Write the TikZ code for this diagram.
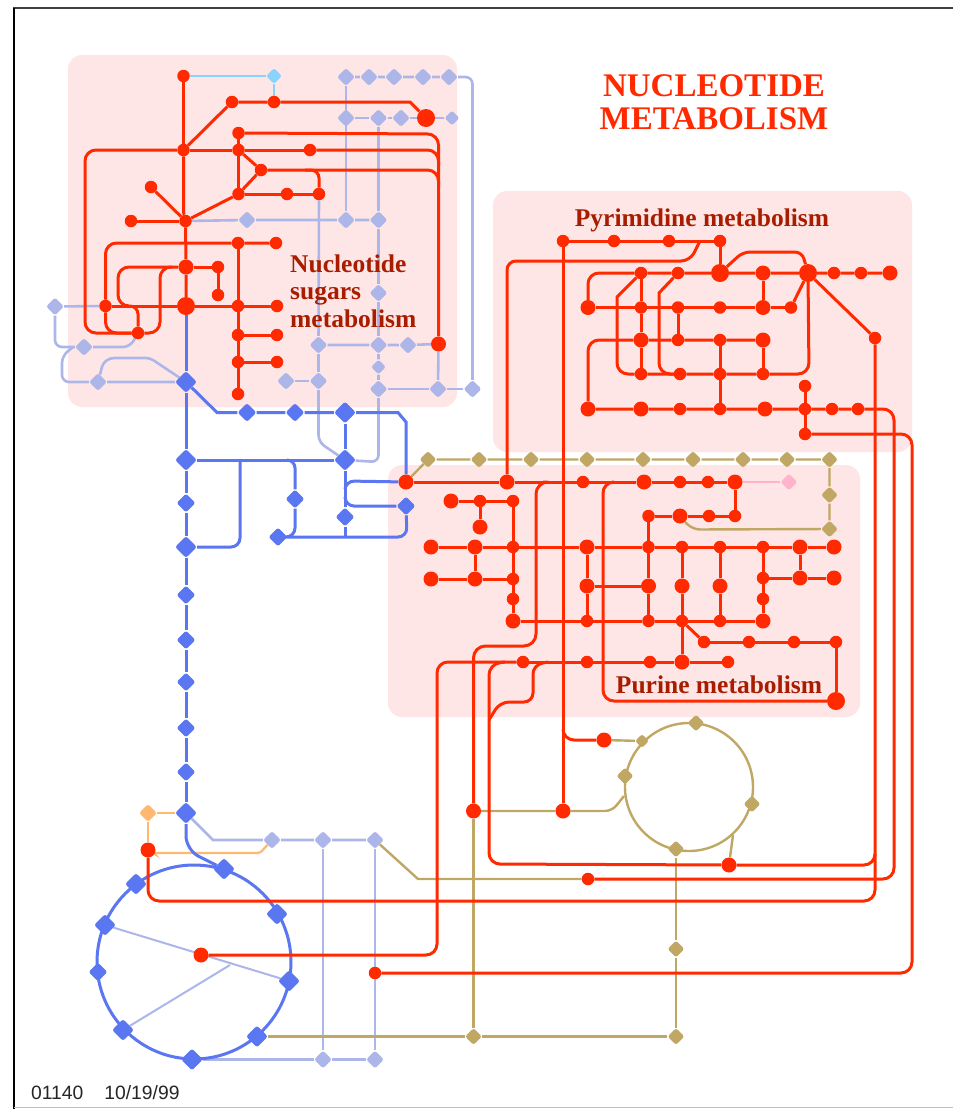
\documentclass[tikz,border=0pt]{standalone}
\usepackage{fontspec}
\setmainfont{Liberation Serif}
\newfontfamily\footfont{Liberation Sans}
\usetikzlibrary{shapes.geometric}
\definecolor{rd}{HTML}{FF2A00}
\definecolor{bgp}{HTML}{FFE6E6}
\definecolor{txd}{HTML}{A81C00}
\definecolor{bl}{HTML}{5A76F0}
\definecolor{pb}{HTML}{ADB6E8}
\definecolor{tn}{HTML}{C0A864}
\definecolor{org}{HTML}{FFB870}
\definecolor{lb}{HTML}{8AD2FF}
\definecolor{pk}{HTML}{FFB4CC}
\pgfdeclarelayer{bgl}\pgfdeclarelayer{pl}\pgfdeclarelayer{rl}\pgfdeclarelayer{rn}
\pgfsetlayers{bgl,pl,main,rl,rn}
\tikzset{
 rS/.style={circle,fill=rd,inner sep=0,minimum size=12.5},
 rM/.style={circle,fill=rd,inner sep=0,minimum size=15},
 rB/.style={circle,fill=rd,inner sep=0,minimum size=18},
 dia/.style={diamond,inner sep=0,minimum size=#1,rounded corners=2.5},
 pD/.style={dia=18,fill=pb},
 pS/.style={dia=15,fill=pb},
 bD/.style={dia=19,fill=bl},
 bB/.style={dia=22,fill=bl},
 tD/.style={dia=17,fill=tn},
 tS/.style={dia=14,fill=tn},
 oD/.style={dia=18,fill=org},
 lD/.style={dia=16,fill=lb},
 kD/.style={dia=17,fill=pk},
 panel/.style={fill=bgp,rounded corners=14},
 rline/.style={draw=rd,line width=3,rounded corners=11},
 pline/.style={draw=pb,line width=2.6,rounded corners=7},
 bline/.style={draw=bl,line width=3,rounded corners=7},
 tline/.style={draw=tn,line width=2.4,rounded corners=7},
 oline/.style={draw=org,line width=2.2},
 lline/.style={draw=lb,line width=2.4},
 kline/.style={draw=pk,line width=2.4},
 hd/.style={text=txd,font=\bfseries\fontsize{25.5}{27}\selectfont,inner sep=0},
}
\newcommand{\nd}[4]{\node[#1] (#2) at (#3,#4) {};}
\begin{document}
\begin{tikzpicture}[x=1pt,y=-1pt]
\useasboundingbox (0,0) rectangle (953,1109);
\begin{pgfonlayer}{bgl}
\fill[white] (0,0) rectangle (953,1109);
\fill[panel] (68,55) rectangle (457,407);
\fill[panel] (493,191) rectangle (912,452);
\fill[panel] (388,465) rectangle (860,717);
\draw[line width=1.2,black!75] (13,8) -- (953,8);
\draw[line width=2.2,black] (14,8) -- (14,1109);
\draw[line width=1,black!25] (14,1107.5) -- (953,1107.5);
\end{pgfonlayer}

% ---------- text
\node[text=rd,font=\bfseries\fontsize{33}{33.5}\selectfont,align=center,inner sep=0] (title) at (714,102) {NUCLEOTIDE\\METABOLISM};
\node[hd,anchor=base] (pyr) at (702,226) {Pyrimidine metabolism};
\node[hd,anchor=base] (pur) at (719,693) {Purine metabolism};
\node[hd,anchor=base west] (n1) at (290,272) {Nucleotide};
\node[hd,anchor=base west] (n2) at (290,299) {sugars};
\node[hd,anchor=base west] (n3) at (290,327) {metabolism};
\node[font=\footfont\fontsize{19.3}{20}\selectfont,text=black!85,anchor=base west,inner sep=0] (foot) at (31,1099) {01140\hspace{21pt}10/19/99};

% ---------- red nodes
\begin{pgfonlayer}{rn}
% sugars
\nd{rS}{s1}{183.5}{76}\nd{rS}{s2}{232}{102}\nd{rS}{s3}{274}{102}\nd{rB}{s4}{426}{118}
\nd{rS}{s5}{183.5}{150}\nd{rS}{s6}{238.5}{133}\nd{rS}{s7}{238.5}{150}\nd{rS}{s8}{310}{150}
\nd{rS}{s9}{261}{170}\nd{rS}{s10}{238.5}{194}\nd{rS}{s11}{287}{194}\nd{rS}{s12}{319}{194}
\nd{rS}{s13}{185.5}{221}\nd{rS}{s14}{151}{187}\nd{rS}{s15}{131}{221}\nd{rS}{s16}{238}{243}
\nd{rS}{s17}{276}{243}\nd{rM}{s18}{186}{267}\nd{rS}{s19}{218}{267}\nd{rS}{s20}{218}{295}
\nd{rB}{s21}{186}{306}\nd{rS}{s22}{105.5}{306}\nd{rS}{s23}{238}{306}\nd{rS}{s24}{277}{306}
\nd{rS}{s25}{238}{335}\nd{rS}{s26}{277}{335}\nd{rS}{s27}{238}{362}\nd{rS}{s28}{277}{362}
\nd{rS}{s29}{238}{394}\nd{rS}{s30}{138}{333}\nd{rM}{s31}{438.5}{344}
% pyrimidine
\nd{rS}{y1}{563}{241}\nd{rS}{y2}{614}{241}\nd{rS}{y3}{669}{241}\nd{rS}{y4}{720}{241}
\nd{rS}{y5}{641}{273}\nd{rS}{y6}{678}{273}\nd{rB}{y7}{720}{273}\nd{rM}{y8}{763}{273}
\nd{rB}{y9}{808}{273}\nd{rS}{y10}{834}{273}\nd{rS}{y11}{861}{273}\nd{rM}{y12}{890}{273}
\nd{rM}{y13}{588}{307.5}\nd{rS}{y14}{641}{307.5}\nd{rS}{y15}{678}{307.5}\nd{rS}{y16}{720}{307.5}
\nd{rM}{y17}{763}{307.5}\nd{rS}{y18}{791}{307.5}
\nd{rM}{y19}{641}{340}\nd{rS}{y20}{678}{340}\nd{rS}{y21}{720}{340}\nd{rM}{y22}{763}{340}
\nd{rS}{y23}{641}{374}\nd{rS}{y24}{680}{374}\nd{rS}{y25}{720}{374}\nd{rS}{y26}{763}{374}
\nd{rM}{y27}{588}{409}\nd{rM}{y28}{641}{409}\nd{rS}{y29}{680}{409}\nd{rS}{y30}{720}{409}
\nd{rM}{y31}{765}{409}\nd{rS}{y32}{805}{409}\nd{rS}{y33}{832}{409}\nd{rS}{y34}{858}{409}
\nd{rS}{y35}{805}{386}\nd{rS}{y36}{805}{434}\nd{rS}{y37}{875}{338}
% purine
\nd{rM}{q1}{406}{482}\nd{rM}{q2}{507}{482}\nd{rS}{q3}{583}{482}\nd{rM}{q4}{644}{482}
\nd{rS}{q5}{680}{482}\nd{rS}{q6}{708}{482}\nd{rM}{q7}{735}{482}
\nd{rM}{q8}{451}{501}\nd{rS}{q9}{480}{501}\nd{rS}{q10}{513}{501}\nd{rM}{q11}{480}{527}
\nd{rM}{q12}{431}{547}\nd{rM}{q13}{475}{547}\nd{rS}{q14}{513}{547}\nd{rM}{q15}{587}{547}
\nd{rS}{q16}{648.5}{547}\nd{rS}{q17}{682}{547}\nd{rS}{q18}{720}{547}\nd{rS}{q19}{763}{547}
\nd{rM}{q20}{800}{547}\nd{rM}{q21}{834}{547}
\nd{rM}{q22}{431}{579}\nd{rM}{q23}{475}{579}\nd{rS}{q24}{513}{579}
\nd{rS}{q25}{513}{599}\nd{rM}{q26}{513}{621}
\nd{rM}{q27}{587}{586}\nd{rM}{q28}{648.5}{586}\nd{rM}{q29}{682}{586}\nd{rM}{q30}{720}{586}
\nd{rS}{q31}{587}{621}\nd{rS}{q32}{648.5}{621}\nd{rS}{q33}{682}{621}\nd{rS}{q34}{720}{621}\nd{rM}{q35}{763}{621}
\nd{rS}{q36}{648.5}{516}\nd{rM}{q37}{680}{516}\nd{rS}{q38}{709}{516}\nd{rS}{q39}{735}{516}
\nd{rS}{q40}{763}{578}\nd{rS}{q41}{763}{599}\nd{rM}{q42}{800}{578}\nd{rM}{q43}{834}{578}
\nd{rS}{q44}{704}{642}\nd{rS}{q45}{749}{642}\nd{rS}{q46}{794}{642}\nd{rS}{q47}{836}{642}
\nd{rB}{q48}{836}{701}
\nd{rS}{q49}{523}{662}\nd{rS}{q50}{587}{662}\nd{rS}{q51}{650}{662}\nd{rM}{q52}{682}{662}\nd{rS}{q53}{728}{662}
% lower
\nd{rM}{m1}{604}{740}\nd{rM}{m2}{473.5}{811}\nd{rM}{m3}{563}{811}\nd{rM}{m4}{729}{865}
\nd{rS}{m5}{588}{879}\nd{rM}{m6}{148}{850}\nd{rM}{m7}{201}{955}\nd{rS}{m8}{375}{973}
\end{pgfonlayer}

% ---------- pale, blue, tan nodes
\nd{lD}{L1}{274}{76}
\nd{pD}{a1}{346}{77}\nd{pD}{a2}{369}{77}\nd{pD}{a3}{394}{77}\nd{pD}{a4}{423}{77}\nd{pD}{a5}{449}{77}
\nd{pD}{a6}{346}{118}\nd{pD}{a7}{378.5}{118}\nd{pD}{a8}{401}{118}\nd{pS}{a9}{452}{118}
\nd{pD}{a10}{247}{220}\nd{pD}{a11}{346}{220}\nd{pD}{a12}{378.5}{220}\nd{pD}{a13}{378.5}{293}
\nd{pD}{a14}{318.5}{345}\nd{pD}{a15}{378.5}{345}\nd{pD}{a16}{408}{345}\nd{pS}{a17}{378.5}{367}
\nd{pD}{a18}{378.5}{389}\nd{pD}{a19}{438}{389}\nd{pD}{a20}{472.5}{389}
\nd{pD}{a21}{286}{381}\nd{pD}{a22}{318.5}{381}
\nd{pD}{a23}{55}{306.5}\nd{pD}{a24}{84}{347}\nd{pD}{a25}{98}{382}
\nd{pD}{a26}{272}{840}\nd{pD}{a27}{323}{840}\nd{pD}{a28}{375}{840}\nd{pD}{a29}{323}{1059.5}\nd{pD}{a30}{375}{1059.5}
\nd{oD}{o1}{148}{813}
\nd{bB}{b1}{186}{382}\nd{bB}{b2}{186}{460}\nd{bD}{b3}{186}{503}\nd{bB}{b4}{186}{547}
\nd{bD}{b5}{186}{595}\nd{bD}{b6}{186}{640}\nd{bD}{b7}{186}{682}\nd{bD}{b8}{186}{728}\nd{bD}{b9}{186}{772}\nd{bB}{b10}{186}{813}
\nd{bD}{b11}{247}{412.5}\nd{bD}{b12}{295}{412.5}\nd{bB}{b13}{345}{412.5}\nd{bB}{b14}{345}{460}
\nd{bD}{b15}{295}{499}\nd{bD}{b16}{345}{517}\nd{bD}{b17}{406}{506}\nd{bD}{b18}{278}{537}
\nd{bB}{c1}{224}{869}\nd{bB}{c2}{136}{884}\nd{bB}{c3}{105}{925}\nd{bD}{c4}{98}{972}
\nd{bB}{c5}{123}{1030}\nd{bB}{c6}{192}{1059.5}\nd{bB}{c7}{257}{1036.5}\nd{bB}{c8}{289}{981}\nd{bB}{c9}{277}{914}
\nd{tD}{t1}{428}{459.5}\nd{tD}{t2}{479}{459.5}\nd{tD}{t3}{531}{459.5}\nd{tD}{t4}{587}{459.5}\nd{tD}{t5}{643}{459.5}
\nd{tD}{t6}{693}{459.5}\nd{tD}{t7}{743}{459.5}\nd{tD}{t8}{787}{459.5}\nd{tD}{t9}{829.5}{459.5}\nd{tD}{t10}{829.5}{495}\nd{tD}{t11}{829.5}{529}
\nd{tS}{u1}{642}{741}\nd{tD}{u2}{696}{723}\nd{tD}{u3}{625}{776}\nd{tD}{u4}{752}{804}\nd{tD}{u5}{676}{849}
\nd{tD}{u6}{676}{949}\nd{tD}{u7}{676}{1036.5}\nd{tD}{u8}{473.5}{1036.5}
\nd{kD}{k1}{789}{482}

\coordinate (sj1) at (438.5,150);
\coordinate (sj2) at (438.5,165);
\coordinate (sj3) at (438.5,185);
\coordinate (sj4) at (305,170);
\coordinate (sj5) at (172,267);
\coordinate (sj6) at (130,306);
\coordinate (bj1) at (345,489);
\coordinate (bj2) at (345,497);
\coordinate (bj4) at (288,460);
\coordinate (bj5) at (230,965);
\coordinate (bj6) at (240,460);
\coordinate (yj1) at (700,241);
\coordinate (yj2) at (684,374);
\coordinate (yj3) at (617,320);
\coordinate (yj4) at (659,320);
\coordinate (pj1) at (543,482);
\coordinate (pj2) at (612,482);
\coordinate (pj3) at (505,662);
\coordinate (pj4) at (548,662);
\coordinate (pj5) at (489,720);
\coordinate (gj1) at (733,835);
\coordinate (gj2) at (624,796);
\coordinate (ej1) at (875,855);
\coordinate (pa1) at (73,347);
\coordinate (pa2) at (685,522);
\coordinate (vj1) at (563,729);

% ---------- circles and soft lines
\begin{pgfonlayer}{pl}
\node[circle,draw=tn,line width=2.4,inner sep=0,minimum size=128] (C2) at (689,787) {};
% pale sugars
\path[pline] (a1)--(a2)--(a3)--(a4)--(a5)--(472.5,77)--(a20);
\path[pline] (a1)--(a11);
\path[pline] (a6)--(a7)--(a8)--(s4)--(a9);
\path[pline] (a7)--(a12)--(a13)--(a15)--(a17)--(a18)--(378.5,462)--(b14);
\path[pline] (s12)--(a14)--(a22)--(318.5,442)--(b14);
\path[pline] (s13)--(a10)--(a11)--(a12);
\path[pline] (a14)--(a15)--(a16)--(s31);
\path[pline] (s31)--(a19);
\path[pline] (a18)--(a19)--(a20);
\path[pline] (a21)--(a22);
\path[pline] (s22)--(a23);
\path[pline] (a23)--(55,347)--(a24)--(130,347)--(s30);
\path[pline] (pa1)--(62,356)--(62,382)--(a25)--(b1);
\path[pline,rounded corners=4] (a25)--(103,363)--(110,358)--(150,358)--(b1);
% pale bottom
\path[pline,rounded corners=0] (b10)--(213,840)--(a26)--(a27)--(a28);
\path[pline] (a27)--(a29);
\path[pline] (a28)--(a30);
\path[pline] (c6)--(a29)--(a30);
\path[pline,line width=2] (c3)--(c8);
\path[pline,line width=2] (c5)--(bj5);
% orange, light blue, pink
\path[oline] (b10)--(o1)--(m6);
\path[oline,rounded corners=2] (m6)--(153,853)--(260,853)--(a26);
\path[lline] (s1)--(L1)--(s3);
\path[kline] (q7)--(k1);
% blue
\node[circle,draw=bl,line width=3,inner sep=0,minimum size=194] (C1) at (194,962) {};
\path[bline] (s21)--(b1)--(b2)--(b3)--(b4)--(b5)--(b6)--(b7)--(b8)--(b9)--(b10);
\path[bline,rounded corners=14] (b10)--(186,850)--(c1);
\path[bline,rounded corners=0] (b1)--(217,412.5)--(b11);
\path[bline,rounded corners=0] (b11)--(b12)--(b13)--(398,412.5)--(406,422)--(q1);
\path[bline] (b2)--(b14);
\path[bline] (b13)--(b14)--(b16)--(345,537);
\path[bline,rounded corners=9] (b4)--(240,547)--(bj6);
\path[bline,rounded corners=8] (bj4)--(295,460)--(b15);
\path[bline,rounded corners=9] (b15)--(295,537)--(b18);
\path[bline,rounded corners=9] (b18)--(407,537)--(b17);
\path[bline,rounded corners=8] (bj1)--(346,481)--(q1);
\path[bline,rounded corners=8] (bj2)--(346,506)--(b17);
% tan
\path[tline,rounded corners=0] (q1)--(t1);
\path[tline] (t1)--(t2)--(t3)--(t4)--(t5)--(t6)--(t7)--(t8)--(t9)--(t10)--(t11)--(693,529.5)--(pa2);
\path[tline,rounded corners=0] (pa2)--(q37);
\path[tline] (m1)--(u1);
\path[tline] (m2)--(m3)--(612,811)--(gj2);
\path[tline] (m4)--(gj1);
\path[tline] (u5)--(u6)--(u7);
\path[tline] (m2)--(u8);
\path[tline] (c7)--(u8)--(u7);
\path[tline,rounded corners=0] (a28)--(418,879)--(m5);
\end{pgfonlayer}

% ---------- red lines
\begin{pgfonlayer}{rl}
% sugars
\path[rline] (s1)--(s5);
\path[rline,rounded corners=0] (s5)--(183.5,212)--(s13);
\path[rline] (s13)--(s18)--(s21);
\path[rline,rounded corners=0] (s2)--(s5);
\path[rline,rounded corners=0] (s2)--(s3)--(410,102)--(s4);
\path[rline] (s6)--(438.5,134)--(s31);
\path[rline] (s8)--(sj1)--(sj2);
\path[rline] (s5)--(s7)--(s8);
\path[rline] (s9)--(438.5,170)--(sj3);
\path[rline,rounded corners=8] (sj4)--(319,170)--(s12);
\path[rline] (s10)--(s11)--(s12);
\path[rline] (s6)--(s7)--(s10);
\path[rline,rounded corners=0] (s7)--(s9)--(s10);
\path[rline] (s10)--(s13);
\path[rline] (s14)--(s13);
\path[rline] (s15)--(s13);
\path[rline] (s5)--(85,150)--(85,333)--(s30);
\path[rline] (s22)--(105.5,243)--(s16)--(s17);
\path[rline] (s16)--(s23)--(s25)--(s27)--(s29);
\path[rline] (s22)--(s21)--(s23)--(s24);
\path[rline] (s25)--(s26);
\path[rline] (s27)--(s28);
\path[rline,rounded corners=0] (s18)--(s19)--(s20);
\path[rline] (s18)--(118,267)--(118,306)--(sj6);
\path[rline] (sj5)--(160,267)--(160,333)--(s30);
\path[rline] (s22)--(105.5,333)--(s30);
\path[rline,rounded corners=8] (sj6)--(138,306)--(s30);
% pyrimidine
\path[rline] (y1)--(y2)--(y3)--(y4)--(y7);
\path[rline,rounded corners=9] (yj1)--(690,261)--(507,261)--(q2);
\path[rline] (y1)--(m3);
\path[rline] (y13)--(588,273)--(y5)--(y6)--(y7)--(y8)--(y9)--(y10)--(y11)--(y12);
\path[rline,rounded corners=7] (y7)--(743,252)--(802,252)--(y9);
\path[rline] (y13)--(y14)--(y15)--(y16)--(y17)--(y18);
\path[rline,rounded corners=0] (y18)--(y9);
\path[rline] (y5)--(y14)--(y19)--(y23);
\path[rline] (y15)--(y20);
\path[rline] (y8)--(y17);
\path[rline] (y22)--(y26);
\path[rline] (y27)--(588,340)--(y19)--(y20)--(y21)--(y22);
\path[rline,rounded corners=0] (y5)--(617,297)--(yj3);
\path[rline] (yj3)--(617,374)--(y23);
\path[rline] (y23)--(y24)--(y25)--(y26)--(809,374)--(y9);
\path[rline,rounded corners=0] (y6)--(659,293)--(yj4);
\path[rline] (yj4)--(659,374)--(yj2);
\path[rline] (y21)--(y25)--(y30);
\path[rline] (y27)--(y28)--(y29)--(y30)--(y31)--(y32)--(y33)--(y34)--(894,409)--(894,879)--(m5);
\path[rline] (y35)--(y32)--(y36);
\path[rline] (y36)--(912,434)--(912,973)--(m8);
\path[rline] (y9)--(y37);
\path[rline] (y37)--(875,901)--(148,901)--(m6);
% purine
\path[rline] (q1)--(q2)--(q3)--(q4)--(q5)--(q6)--(q7)--(q39);
\path[rline] (q36)--(q37)--(q38)--(q39);
\path[rline] (q8)--(q9)--(q10);
\path[rline] (q9)--(q11);
\path[rline] (q10)--(q14)--(q24)--(q25)--(q26);
\path[rline] (q12)--(q13)--(q14)--(q15)--(q16)--(q17)--(q18)--(q19)--(q20)--(q21);
\path[rline] (q22)--(q23)--(q24);
\path[rline] (q13)--(q23);
\path[rline] (q15)--(q27)--(q31);
\path[rline] (q27)--(q28);
\path[rline] (q36)--(q16)--(q28)--(q32);
\path[rline] (q17)--(q29)--(q33)--(q52);
\path[rline] (q18)--(q30)--(q34);
\path[rline] (q19)--(q40)--(q41)--(q35);
\path[rline] (q40)--(q42)--(q43);
\path[rline] (q20)--(q42);
\path[rline] (q26)--(q31)--(q32)--(q33)--(q34)--(q35);
\path[rline,rounded corners=0] (q33)--(q44);
\path[rline] (q44)--(q45)--(q46)--(q47)--(q48);
\path[rline] (q48)--(603,701)--(603,482)--(pj2);
\path[rline,rounded corners=12] (pj1)--(536,482)--(536,646)--(473.5,646)--(m2);
\path[rline] (m7)--(437,955)--(437,662)--(q49);
\path[rline] (q49)--(q50)--(q51)--(q52)--(q53);
\path[rline,rounded corners=11] (pj3)--(489,664)--(489,864)--(m4);
\path[rline,rounded corners=9] (pj4)--(533,665)--(533,702)--(500,702)--(pj5);
\path[rline] (m4)--(875,865)--(ej1);
\path[rline] (vj1)--(563,740)--(m1);
\end{pgfonlayer}
\end{tikzpicture}
\end{document}
